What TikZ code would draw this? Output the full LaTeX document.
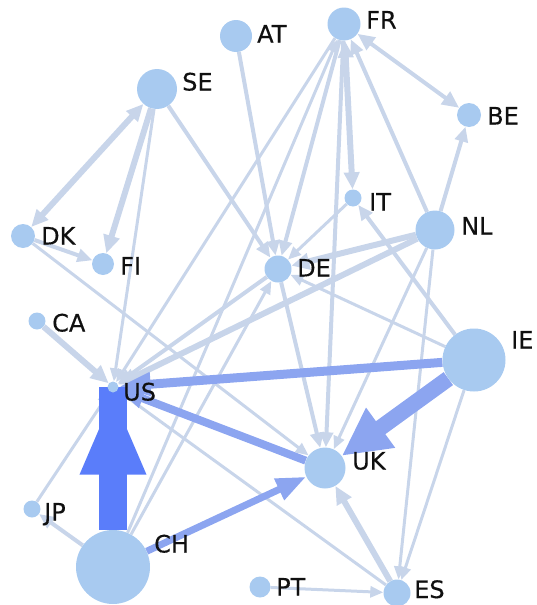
\documentclass[tikz,border=0pt]{standalone}
\usepackage{fontspec}
\setmainfont[FakeBold=0.4]{DejaVu Sans}
\usetikzlibrary{arrows.meta}
\pgfdeclarelayer{edges}
\pgfsetlayers{edges,main}
\definecolor{nodefill}{HTML}{A8CAF0}
\definecolor{edgelight}{HTML}{C8D5EA}
\definecolor{edgemid}{HTML}{8CA5F0}
\definecolor{edgedark}{HTML}{5A7DFA}
\definecolor{labeltext}{HTML}{101010}
\begin{document}
\begin{tikzpicture}[x=1pt,y=-1pt,
  country/.style={circle, fill=nodefill, inner sep=0pt, minimum size=#1},
  lbl/.style={anchor=base west, inner sep=0pt, text=labeltext,
    font=\fontsize{24}{24}\selectfont},
  lnA/.style={draw=edgelight, line width=3pt,
    -{Triangle[length=13pt,width=11pt]}},
  lnB/.style={draw=edgelight, line width=4pt,
    -{Triangle[length=15pt,width=13pt]}},
  lnC/.style={draw=edgelight, line width=6pt,
    -{Triangle[length=18pt,width=16pt]}},
  both/.style={{Triangle[length=17pt,width=15pt]}-{Triangle[length=17pt,width=15pt]}},
  midflow/.style={draw=edgemid, line width=#1},
]
\useasboundingbox (0,0) rectangle (537,605);

% countries
\node[country=32] (AT) at (236,36) {};
\node[country=33] (FR) at (344,24) {};
\node[country=40] (SE) at (157,89) {};
\node[country=24] (BE) at (469,115) {};
\node[country=17] (IT) at (353,198) {};
\node[country=39] (NL) at (435,230) {};
\node[country=24] (DK) at (23,236) {};
\node[country=22] (FI) at (103,264) {};
\node[country=27] (DE) at (278,269) {};
\node[country=17] (CA) at (37,321) {};
\node[country=63] (IE) at (474,360) {};
\node[country=11] (US) at (113,387) {};
\node[country=41] (UK) at (325,468) {};
\node[country=17] (JP) at (32,509) {};
\node[country=74] (CH) at (113,567) {};
\node[country=21] (PT) at (260,587) {};
\node[country=27] (ES) at (397,593) {};

% country labels
\node[lbl] (tAT) at (257,42.5) {AT};
\node[lbl] (tFR) at (366,28.5) {FR};
\node[lbl] (tSE) at (182,90.5) {SE};
\node[lbl] (tBE) at (487,124.5) {BE};
\node[lbl] (tIT) at (369,210.5) {IT};
\node[lbl] (tNL) at (461,234.5) {NL};
\node[lbl] (tDK) at (41,244.5) {DK};
\node[lbl] (tFI) at (120,274.5) {FI};
\node[lbl] (tDE) at (297,276.5) {DE};
\node[lbl] (tCA) at (52,331.5) {CA};
\node[lbl] (tIE) at (511,348.5) {IE};
\node[lbl] (tUS) at (123,400.5) {US};
\node[lbl] (tUK) at (352,469.5) {UK};
\node[lbl] (tJP) at (44,520.5) {JP};
\node[lbl] (tCH) at (154,552.5) {CH};
\node[lbl] (tPT) at (276,595.5) {PT};
\node[lbl] (tES) at (414,598) {ES};

\begin{pgfonlayer}{edges}
  % light flows
  \draw[lnC, both] (SE) -- (DK);
  \draw[lnC] (SE) -- (FI);
  \draw[lnA] (SE) -- (US);
  \draw[lnB] (SE) -- (DE);
  \draw[lnB] (DK) -- (FI);
  \draw[lnA] (DK) -- (UK);
  \draw[lnB] (AT) -- (DE);
  \draw[lnB] (FR) -- (DE);
  \draw[lnA] (FR) -- (US);
  \draw[lnA] (CH) -- (FR);
  \draw[lnA] (CH) -- (DE);
  \draw[lnB] (FR) -- (UK);
  \draw[lnC, both] (FR) -- (IT);
  \draw[lnB] (NL) -- (FR);
  \draw[lnB, both] (FR) -- (BE);
  \draw[lnB] (NL) -- (BE);
  \draw[lnB] (IE) -- (IT);
  \draw[lnC] (NL) -- (DE);
  \draw[lnC] (NL) -- (US);
  \draw[lnA] (NL) -- (UK);
  \draw[lnA] (NL) -- (ES);
  \draw[lnA] (IE) -- (ES);
  \draw[lnA] (IE) -- (DE);
  \draw[lnC] (CA) -- (US);
  \draw[lnA] (JP) -- (US);
  \draw[lnB] (CH) -- (JP);
  \draw[lnA] (ES) -- (US);
  \draw[lnC] (ES) -- (UK);
  \draw[lnA] (PT) -- (ES);
  \draw[lnB] (DE) -- (UK);
  \draw[lnB] (DE) -- (US);
  \draw[lnA] (IT) -- (DE);
  % stronger flows
  \draw[midflow=8pt, -{Triangle[length=26pt,width=19pt]}] (UK) -- (US);
  \draw[midflow=9pt, -{Triangle[length=32pt,width=22pt]}] (IE) -- (US);
  \draw[midflow=7pt, -{Triangle[length=30pt,width=22pt]}] (CH) -- (UK);
  \draw[midflow=16pt, -{Triangle[length=48pt,width=46pt]}] (IE) -- (UK);
  \draw[draw=edgedark, line width=28pt] (CH) -- (US.center);
  \draw[draw=edgedark, line width=28pt, -{Triangle[length=82pt,width=60pt]}] (CH) -- (US);
\end{pgfonlayer}
\end{tikzpicture}
\end{document}
